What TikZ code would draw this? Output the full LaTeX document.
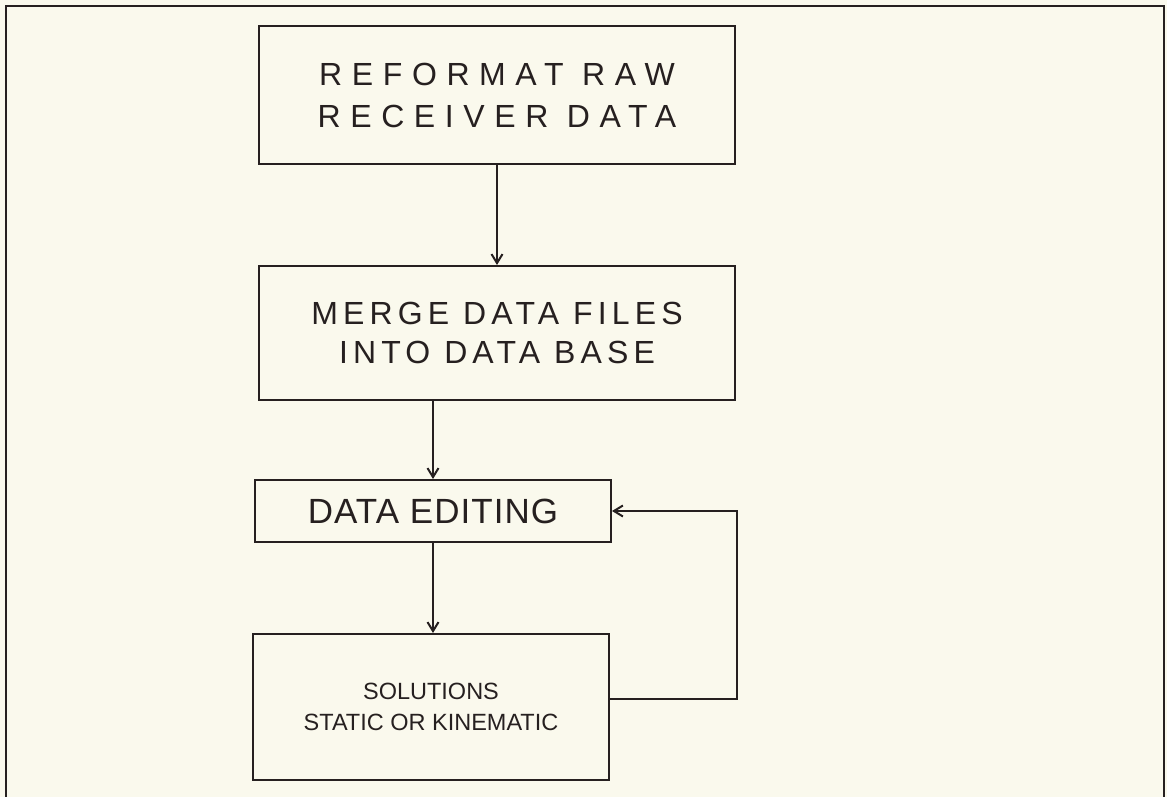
\documentclass[tikz,border=0pt]{standalone}
\usepackage{fontspec}
\setmainfont{Liberation Sans}
\usetikzlibrary{arrows.meta}
\definecolor{bgc}{RGB}{250,249,237}
\definecolor{ink}{RGB}{38,32,32}
\begin{document}
\begin{tikzpicture}[x=1pt,y=-1pt,
  box/.style={draw=ink, line width=2pt, text=ink, inner sep=0pt, align=center},
  conn/.style={draw=ink, line width=2pt, -{Straight Barb[length=9pt,width=11pt]}},
  frame/.style={draw=ink, line width=1.8pt}]
\fill[bgc] (0,0) rectangle (1167,797);
\useasboundingbox (0,0) rectangle (1167,797);
\draw[frame] (6,797) -- (6,6) -- (1164,6) -- (1164,797);

\node[box, minimum width=476pt, minimum height=138pt,
  font={\fontsize{32}{42}\selectfont\addfontfeature{LetterSpace=30}}]
  (b1) at (497,95) {REFORMAT RAW\\RECEIVER DATA};
\node[box, minimum width=476pt, minimum height=134pt,
  font={\fontsize{32}{39}\selectfont\addfontfeature{LetterSpace=16}}]
  (b2) at (497,333) {MERGE DATA FILES\\INTO DATA BASE};
\node[box, minimum width=356pt, minimum height=62pt,
  font={\fontsize{35}{40}\selectfont\addfontfeature{LetterSpace=3}}]
  (b3) at (433,511) {DATA EDITING};
\node[box, minimum width=356pt, minimum height=146pt,
  font={\fontsize{23.5}{31}\selectfont}]
  (b4) at (431,707) {SOLUTIONS\\STATIC OR KINEMATIC};

\draw[conn] (b1) -- (b2);
\draw[conn] (b3.north |- b2.south) -- (b3.north);
\draw[conn] (b3.south) -- (b3.south |- b4.north);
\draw[conn] ([yshift=8pt]b4.east) -- ++(127,0) |- (b3.east);
\end{tikzpicture}
\end{document}
